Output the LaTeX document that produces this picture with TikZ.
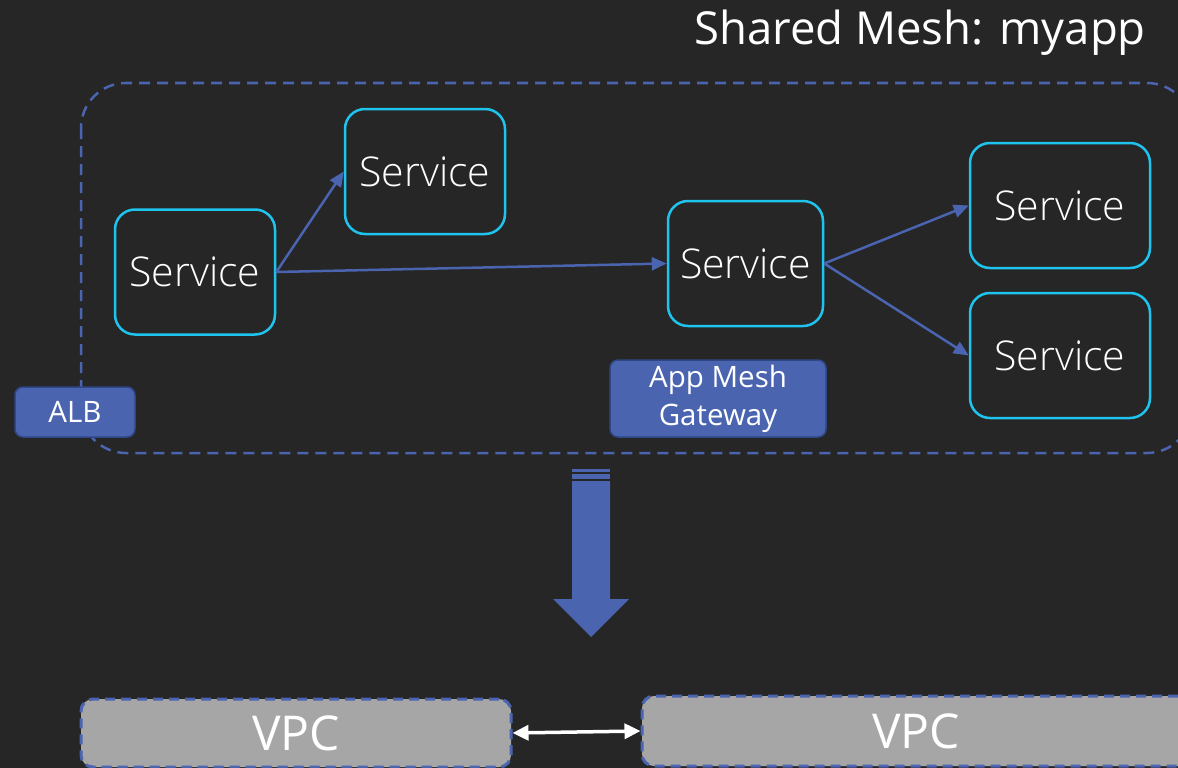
\documentclass[tikz,border=0pt]{standalone}
\usepackage{fontspec}
\setmainfont{Open Sans}
\newfontfamily\lightfont{Open Sans Light}
\usetikzlibrary{arrows.meta}
\definecolor{bgdark}{HTML}{262626}
\definecolor{meshblue}{HTML}{4A64B0}
\definecolor{meshedge}{HTML}{2F4787}
\definecolor{svccyan}{HTML}{1FC4EE}
\definecolor{vpcgray}{HTML}{A6A6A6}
\tikzset{
  svcbox/.style={draw=svccyan, line width=2.5pt, rounded corners=20pt, fill=bgdark,
    minimum height=125pt, inner sep=0pt, text=white, font=\lightfont\fontsize{41}{46}\selectfont},
  tagbox/.style={draw=meshedge, line width=1.5pt, fill=meshblue, rounded corners=8pt,
    inner sep=0pt, text=white, align=center, font=\fontsize{29.5}{38}\selectfont},
  vpcbox/.style={draw=meshblue, line width=3pt, dash pattern=on 10pt off 6pt,
    fill=vpcgray, rounded corners=12pt, inner sep=0pt, text=white,
    font=\fontsize{48}{52}\selectfont},
  flow/.style={draw=meshblue, line width=2.5pt, -{Triangle[length=15pt,width=13pt]}},
  peer/.style={draw=white, line width=3.5pt,
    {Triangle[length=16pt,width=15pt]}-{Triangle[length=16pt,width=15pt]}},
}
\begin{document}
\begin{tikzpicture}[x=1pt, y=-1pt]
  % canvas
  \clip (0,0) rectangle (1178,768);
  \fill[bgdark] (0,0) rectangle (1178,768);
  \useasboundingbox (0,0) rectangle (1178,768);

  % title
  \node[anchor=base east, inner sep=0pt, text=white, font=\fontsize{45.5}{50}\selectfont]
    (title) at (1146,45) {Shared Mesh: myapp};

  % mesh boundary
  \draw[meshblue, line width=2.5pt, dash pattern=on 11pt off 7pt, rounded corners=45pt]
    (81,83) rectangle (1192,453);

  % services
  \node[svcbox, minimum width=160pt] (s1) at (195,272) {Service};
  \node[svcbox, minimum width=160pt] (s2) at (425,171.5) {Service};
  \node[svcbox, minimum width=155pt] (s3) at (745.5,263.5) {Service};
  \node[svcbox, minimum width=180pt] (s4) at (1060,205.5) {Service};
  \node[svcbox, minimum width=180pt] (s5) at (1060,355.5) {Service};

  % service-to-service traffic
  \draw[flow] (s1.east) -- (s2.west);
  \draw[flow] (s1.east) -- (s3.west);
  \draw[flow] (s3.east) -- (s4.west);
  \draw[flow] (s3.east) -- (s5.west);

  % ingress components
  \node[tagbox, minimum width=120pt, minimum height=50pt] (alb) at (75,412) {ALB};
  \node[tagbox, minimum width=216pt, minimum height=77pt] (gw) at (718,398.5)
    {App Mesh\\Gateway};

  % big downward arrow
  \fill[meshblue] (572,469) rectangle (610,472);
  \fill[meshblue] (572,474) rectangle (610,479);
  \fill[meshblue] (572,481) -- (610,481) -- (610,599) -- (629,599)
    -- (591,637) -- (553,599) -- (572,599) -- cycle;

  % VPCs
  \node[vpcbox, minimum width=430pt, minimum height=68pt] (vpc1) at (296,733) {VPC};
  \node[vpcbox, minimum width=548pt, minimum height=70pt] (vpc2) at (916,731) {VPC};
  \draw[peer] (vpc1.east) -- (vpc2.west);
\end{tikzpicture}
\end{document}
